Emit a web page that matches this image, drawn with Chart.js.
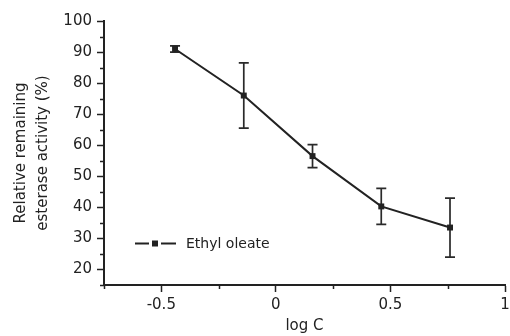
<!DOCTYPE html>
<html>
<head>
<meta charset="utf-8">
<script src="https://cdn.jsdelivr.net/npm/chart.js@4/dist/chart.umd.min.js"></script>
<style>
  html, body { margin: 0; padding: 0; background: #fff; }
  #wrap { width: 510px; height: 336px; }
</style>
</head>
<body>
<div id="wrap"><canvas id="chart" width="510" height="336"></canvas></div>
<script>
const logC = [-0.44, -0.14, 0.16, 0.46, 0.76];
const activity = [91, 76, 56.5, 40.3, 33.5];
const errorSD = [1, 10.5, 3.7, 5.8, 9.5];
const seriesLabel = 'Ethyl oleate';
const yTitle = ['Relative remaining', 'esterase activity (%)'];
const xTitle = 'log C';

const ink = '#222';
const tickFont = { family: 'DejaVu Sans', size: 15 };

const isMajorY = v => Math.abs(v % 10) < 1e-6;
const isMajorX = v => Math.abs(v * 2 - Math.round(v * 2)) < 1e-6;

// error bars + minor ticks + hand-drawn legend
const extras = {
    id: 'extras',
    beforeDatasetsDraw(chart) {
        const { ctx, scales: { x, y } } = chart;
        ctx.save();
        ctx.strokeStyle = '#2a2a2a';
        ctx.lineWidth = 1.7;
        logC.forEach((c, i) => {
            const px = x.getPixelForValue(c);
            const top = y.getPixelForValue(activity[i] + errorSD[i]);
            const bot = y.getPixelForValue(activity[i] - errorSD[i]);
            ctx.beginPath();
            ctx.moveTo(px, top); ctx.lineTo(px, bot);
            ctx.moveTo(px - 5, top); ctx.lineTo(px + 5, top);
            ctx.moveTo(px - 5, bot); ctx.lineTo(px + 5, bot);
            ctx.stroke();
        });
        ctx.restore();
    },
    afterDraw(chart) {
        const { ctx, scales: { x, y } } = chart;
        ctx.save();
        ctx.strokeStyle = ink;
        ctx.lineWidth = 1.5;
        ctx.beginPath();
        y.ticks.forEach(t => {
            if (isMajorY(t.value)) return;
            const py = Math.round(y.getPixelForValue(t.value)) + 0.5;
            ctx.moveTo(x.left - 4, py); ctx.lineTo(x.left, py);
        });
        x.ticks.forEach(t => {
            if (isMajorX(t.value)) return;
            const px = Math.round(x.getPixelForValue(t.value)) + 0.5;
            ctx.moveTo(px, y.bottom); ctx.lineTo(px, y.bottom + 4);
        });
        ctx.stroke();

        // legend
        const ly = 243.5;
        ctx.lineWidth = 2;
        ctx.beginPath();
        ctx.moveTo(135, ly); ctx.lineTo(149, ly);
        ctx.moveTo(161, ly); ctx.lineTo(176, ly);
        ctx.stroke();
        ctx.fillStyle = ink;
        ctx.fillRect(152, ly - 3, 6, 6);
        ctx.font = '14px "DejaVu Sans"';
        ctx.textBaseline = 'middle';
        ctx.fillText(seriesLabel, 186, ly + 1);
        ctx.restore();
    }
};

new Chart(document.getElementById('chart'), {
    type: 'line',
    data: {
        datasets: [{
            label: seriesLabel,
            data: logC.map((c, i) => ({ x: c, y: activity[i] })),
            borderColor: ink,
            backgroundColor: ink,
            borderWidth: 2,
            pointStyle: 'rect',
            pointRadius: 4.2,
            pointBorderWidth: 0,
            tension: 0,
            clip: false,
        }],
    },
    options: {
        responsive: false,
        animation: false,
        layout: { padding: { left: 0, right: 5, top: 21, bottom: 0 } },
        plugins: { legend: { display: false }, tooltip: { enabled: false } },
        scales: {
            x: {
                type: 'linear',
                min: -0.75,
                max: 1,
                afterFit: s => { s.height = 51; s.paddingLeft = 0; s.paddingRight = 0; },
                ticks: {
                    stepSize: 0.25,
                    color: ink,
                    font: tickFont,
                    padding: 4,
                    maxRotation: 0,
                    autoSkip: false,
                    callback: v => isMajorX(v) ? String(Math.round(v * 100) / 100) : '',
                },
                grid: {
                    drawOnChartArea: false,
                    tickLength: 7,
                    tickWidth: 1.5,
                    tickColor: c => c.tick && isMajorX(c.tick.value) ? ink : 'rgba(0,0,0,0)',
                },
                border: { color: ink, width: 2 },
                title: {
                    display: true,
                    text: xTitle,
                    color: ink,
                    font: { family: 'DejaVu Sans', size: 15 },
                    padding: { top: 0, bottom: 1 },
                },
            },
            y: {
                min: 15,
                max: 100,
                afterFit: s => { s.width = 104; },
                ticks: {
                    stepSize: 5,
                    color: ink,
                    font: tickFont,
                    padding: 5,
                    autoSkip: false,
                    callback: v => isMajorY(v) ? String(v) : '',
                },
                grid: {
                    drawOnChartArea: false,
                    tickLength: 7,
                    tickWidth: 1.5,
                    tickColor: c => c.tick && isMajorY(c.tick.value) ? ink : 'rgba(0,0,0,0)',
                },
                border: { color: ink, width: 2 },
                title: {
                    display: true,
                    text: yTitle,
                    color: ink,
                    font: { family: 'DejaVu Sans', size: 15, lineHeight: 1.47 },
                    padding: { top: 10.5, bottom: 0 },
                },
            },
        },
    },
    plugins: [extras],
});
</script>
</body>
</html>
